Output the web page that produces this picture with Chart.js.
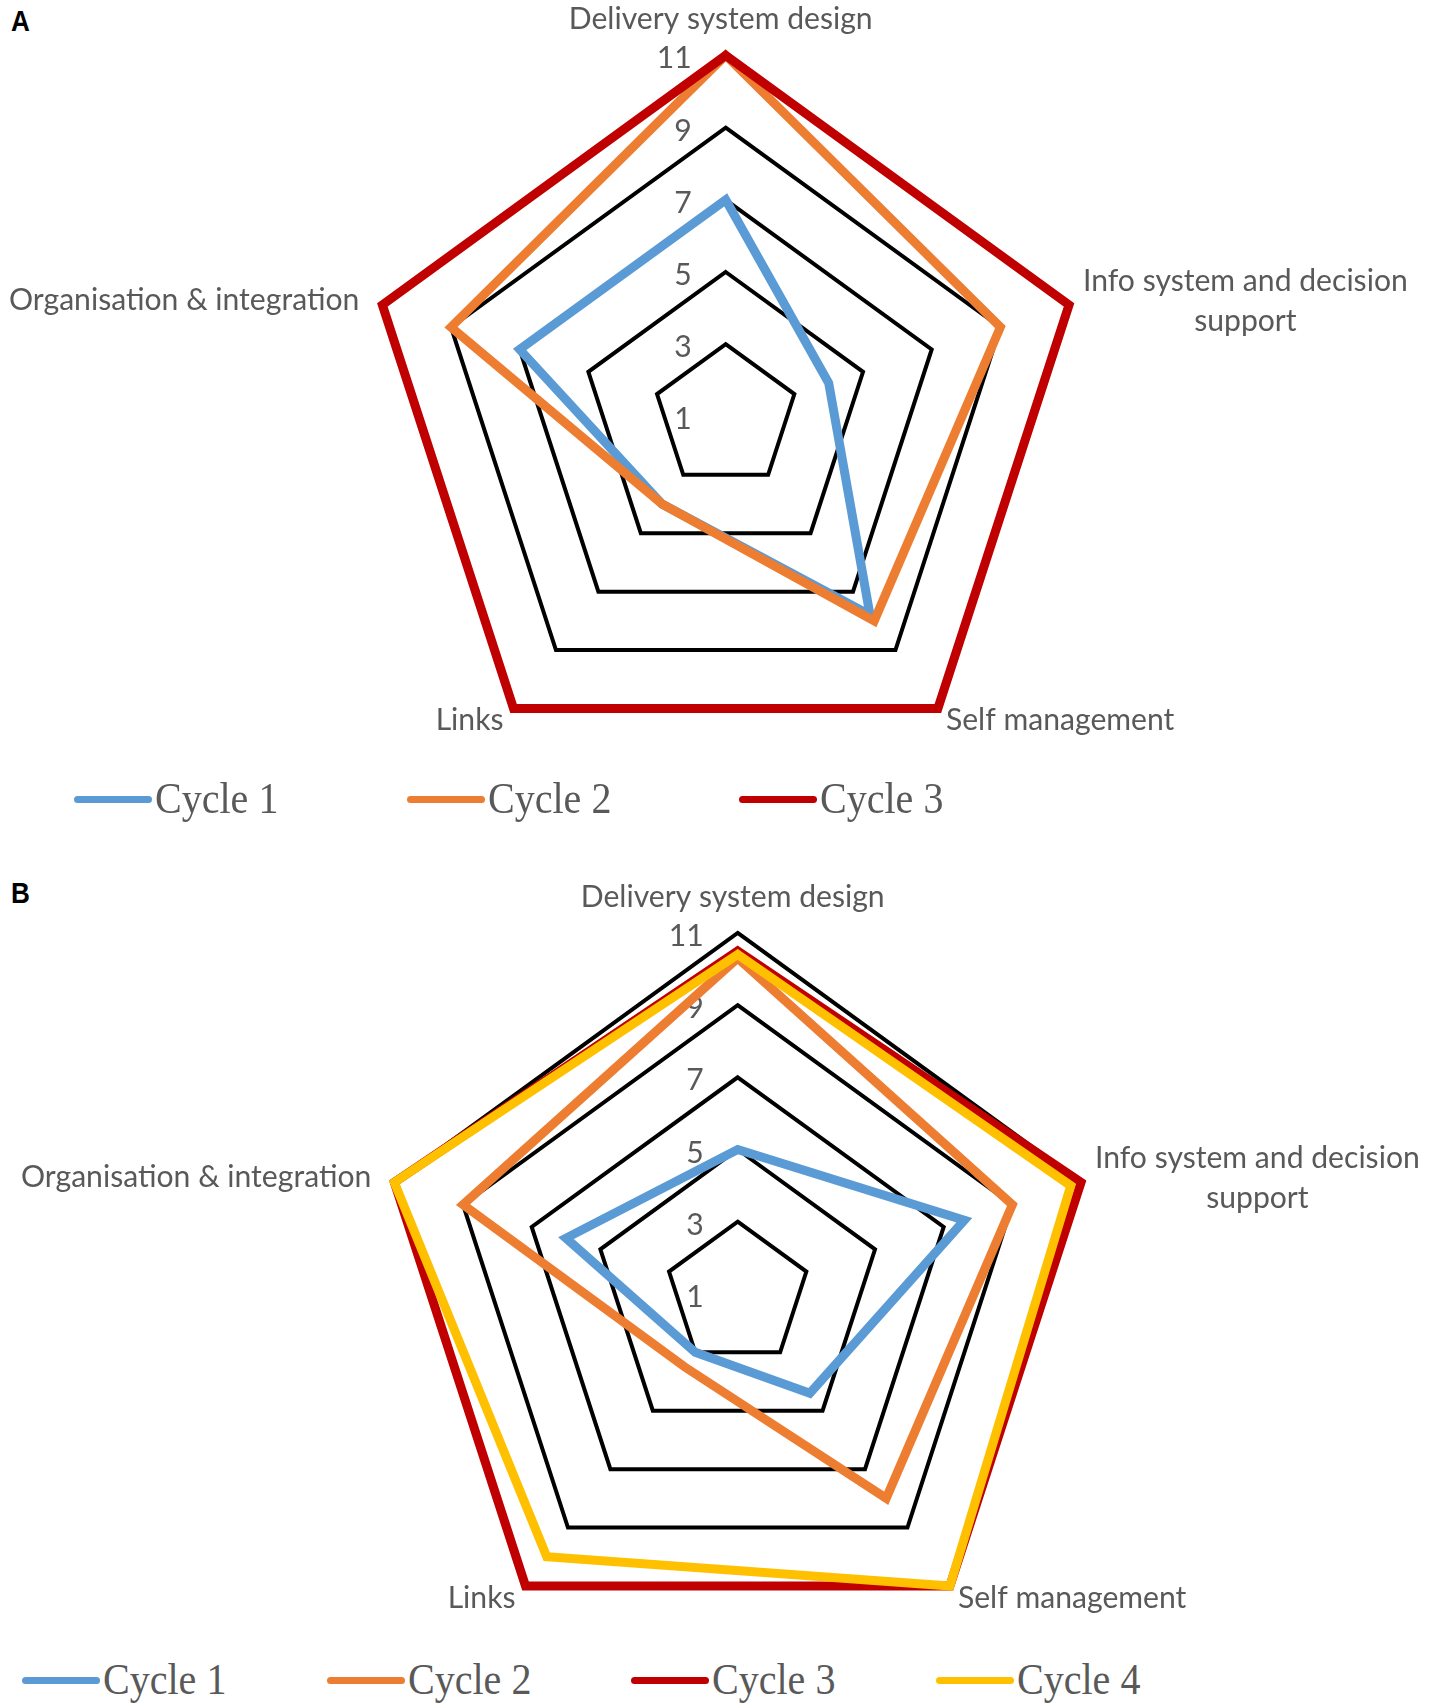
<!DOCTYPE html>
<html>
<head>
<meta charset="utf-8">
<script src="https://cdn.jsdelivr.net/npm/chart.js@4.4.1/dist/chart.umd.min.js"></script>
<style>
html,body{margin:0;padding:0;background:#fff;}
body{width:1435px;height:1705px;position:relative;overflow:hidden;}
.panel{position:absolute;left:0;width:1435px;height:780px;}
canvas{display:block;}
.letter{position:absolute;font-family:"Liberation Sans",Arial,sans-serif;font-weight:bold;font-size:29px;line-height:1;color:#000;transform:scaleX(0.9);transform-origin:left top;}
.legend{position:absolute;display:flex;height:50px;}
.item{display:flex;align-items:center;height:50px;}
.swatch{width:78px;height:7px;border-radius:4px;flex:none;}
.ltext{font-family:"Liberation Serif","Times New Roman",serif;font-size:44px;line-height:1;color:#595959;margin-left:3px;transform:scaleX(0.91);transform-origin:left center;white-space:nowrap;}
</style>
</head>
<body>
<div class="letter" style="left:11px;top:7px;">A</div>
<div class="letter" style="left:11px;top:879px;">B</div>
<div class="panel" style="top:0px;"><canvas id="chartA" width="1435" height="780"></canvas></div>
<div class="panel" style="top:860px;"><canvas id="chartB" width="1435" height="780"></canvas></div>
<div class="legend" id="legendA" style="left:74px;top:774px;"></div>
<div class="legend" id="legendB" style="left:22px;top:1655px;"></div>
<script>
// ---------- data ----------
const categories = ['Delivery system design', ['Info system and decision', 'support'], 'Self management', 'Links', 'Organisation & integration'];
const tickMin = 1;
const tickMax = 11;
const tickStep = 2;
const seriesNames = ['Cycle 1', 'Cycle 2', 'Cycle 3', 'Cycle 4'];
const seriesColors = ['#5B9BD5', '#ED7D31', '#C00000', '#FFC000'];

const panelA_cycle1 = [7, 4, 7.8, 4, 7];
const panelA_cycle2 = [11, 9, 8, 4, 9];
const panelA_cycle3 = [11, 11, 11, 11, 11];

const panelB_cycle1 = [5, 7.6, 4.4, 3, 6];
const panelB_cycle2 = [10.3, 9, 8, 3.5, 9];
const panelB_cycle3 = [10.5, 11, 11, 11, 11];
const panelB_cycle4 = [10.4, 10.7, 11, 10, 11];

// ---------- layout / style ----------
const LABEL_FONT = 'Lato';
const TEXT_COLOR = '#595959';
const measureCtx = document.createElement('canvas').getContext('2d');
measureCtx.font = '100px ' + LABEL_FONT;
const FS = 100 * 304 / measureCtx.measureText('Delivery system design').width;

// label offsets relative to the outer vertex of each axis
const labelPlace = [
  {align: 'center', dx: -5, dy: -26},
  {align: 'blockLeft', dx: 14, dy: -14, lh: 40},
  {align: 'left', dx: 8, dy: 22},
  {align: 'right', dx: -10, dy: 22},
  {align: 'right', dx: -23, dy: 5}
];

const textPlugin = {
  id: 'radarText',
  beforeDatasetsDraw(chart) {
    const s = chart.scales.r;
    const ctx = chart.ctx;
    ctx.save();
    ctx.fillStyle = TEXT_COLOR;
    ctx.font = FS.toFixed(2) + 'px ' + LABEL_FONT;
    ctx.textBaseline = 'alphabetic';
    // tick labels, right aligned left of the vertical axis
    ctx.textAlign = 'right';
    s.ticks.forEach(t => {
      const y = s.yCenter - s.getDistanceFromCenterForValue(t.value);
      const m = ctx.measureText(String(t.label));
      ctx.fillText(String(t.label), s.xCenter - 34, y + 2 + m.actualBoundingBoxAscent / 2);
    });
    // category labels
    chart.data.labels.forEach((lab, i) => {
      const p = s.getPointPosition(i, s.drawingArea);
      const pl = labelPlace[i];
      if (Array.isArray(lab)) {
        const w0 = ctx.measureText(lab[0]).width;
        const cx = p.x + pl.dx + w0 / 2;
        ctx.textAlign = 'center';
        lab.forEach((line, k) => ctx.fillText(line, cx, p.y + pl.dy + k * pl.lh));
      } else {
        ctx.textAlign = pl.align;
        ctx.fillText(lab, p.x + pl.dx, p.y + pl.dy);
      }
    });
    ctx.restore();
  }
};

function makeChart(id, seriesList, cx, cy, R) {
  const datasets = seriesList.map((vals, i) => ({
    label: seriesNames[i],
    data: vals,
    borderColor: seriesColors[i],
    backgroundColor: 'rgba(0,0,0,0)',
    borderWidth: 9,
    borderJoinStyle: 'miter',
    pointRadius: 0,
    pointHoverRadius: 0,
    fill: false,
    tension: 0,
    order: seriesList.length - i
  }));
  return new Chart(document.getElementById(id), {
    type: 'radar',
    data: {labels: categories, datasets},
    options: {
      responsive: false,
      animation: false,
      devicePixelRatio: 1,
      plugins: {legend: {display: false}, tooltip: {enabled: false}},
      scales: {
        r: {
          min: tickMin,
          max: tickMax,
          beginAtZero: false,
          ticks: {stepSize: tickStep, display: false},
          grid: {color: '#000000', lineWidth: 4, circular: false},
          angleLines: {display: false},
          pointLabels: {display: false},
          afterFit(scale) {
            scale.xCenter = cx;
            scale.yCenter = cy;
            scale.drawingArea = R;
          }
        }
      }
    },
    plugins: [textPlugin]
  });
}

makeChart('chartA', [panelA_cycle1, panelA_cycle2, panelA_cycle3], 725.7, 416.4, 361);
makeChart('chartB', [panelB_cycle1, panelB_cycle2, panelB_cycle3, panelB_cycle4], 737.7, 433.9, 361);

function buildLegend(id, n, itemWidth) {
  const el = document.getElementById(id);
  for (let i = 0; i < n; i++) {
    const it = document.createElement('div');
    it.className = 'item';
    it.style.width = itemWidth + 'px';
    const sw = document.createElement('div');
    sw.className = 'swatch';
    sw.style.background = seriesColors[i];
    const tx = document.createElement('span');
    tx.className = 'ltext';
    tx.textContent = seriesNames[i];
    it.appendChild(sw);
    it.appendChild(tx);
    el.appendChild(it);
  }
}
buildLegend('legendA', 3, 332.5);
buildLegend('legendB', 4, 304.5);
</script>
</body>
</html>
